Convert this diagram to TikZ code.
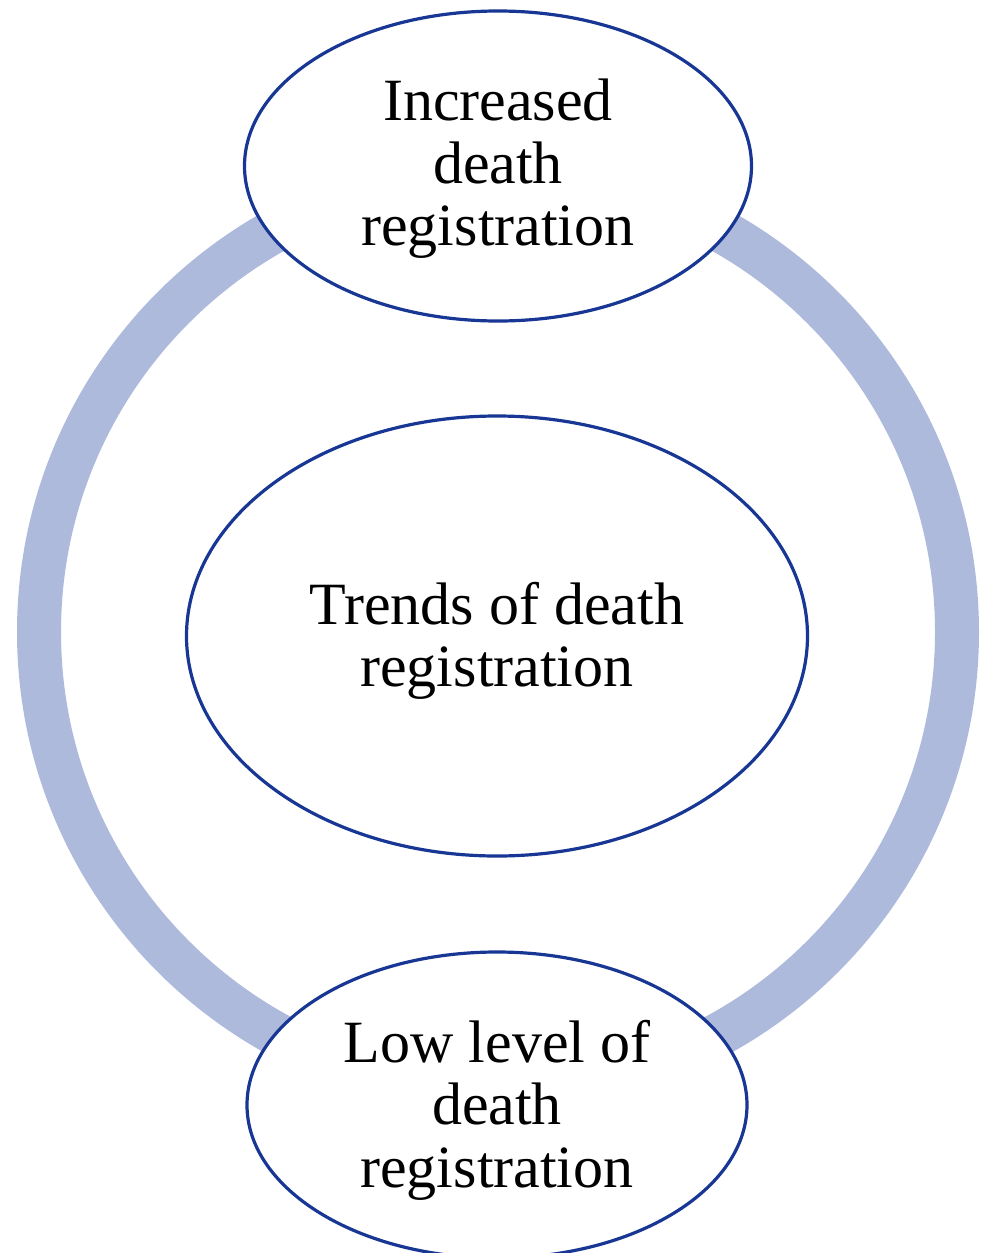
\documentclass[tikz,border=0pt]{standalone}
\usepackage{fontspec}
\setmainfont{Liberation Serif}
\usetikzlibrary{shapes.geometric}
\definecolor{ringblue}{RGB}{173,186,220}
\definecolor{edgeblue}{RGB}{24,54,148}
\begin{document}
\begin{tikzpicture}[x=1pt,y=-1pt,
  bubble/.style={ellipse, draw=edgeblue, line width=3.2pt, fill=white,
    inner sep=0pt},
  bubbletext/.style={inner sep=0pt, align=center,
    font=\fontsize{60}{62.5}\selectfont},
  cycle ring/.style={draw=ringblue, line width=44pt}]
  \useasboundingbox (0,0) rectangle (981,1253);
  % thick ring running behind the three bubbles
  \coordinate (hub) at (498,632);
  \draw[cycle ring] (hub) circle[radius=459];
  % bubbles
  \node[bubble, minimum width=507pt, minimum height=310pt] (top) at (498,166) {};
  \node[bubble, minimum width=621pt, minimum height=440pt] (mid) at (497,636) {};
  \node[bubble, minimum width=500pt, minimum height=306pt] (bot) at (497,1105) {};
  % their texts, set a little below each centre
  \node[bubbletext, yshift=-3pt] (toptext) at (top) {Increased\\death\\registration};
  \node[bubbletext, yshift=-5pt] (midtext) at (mid) {Trends of death\\registration};
  \node[bubbletext, yshift=-5pt] (bottext) at (bot) {Low level of\\death\\registration};
\end{tikzpicture}
\end{document}
